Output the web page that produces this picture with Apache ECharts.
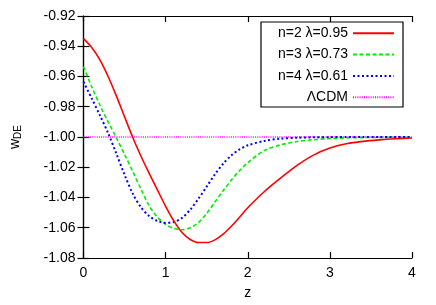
<!DOCTYPE html>
<html><head><meta charset="utf-8">
<script src="https://cdn.jsdelivr.net/npm/echarts@6/dist/echarts.min.js"></script>
<style>html,body{margin:0;padding:0;background:#fff}#c{width:436px;height:305px}</style>
</head><body><div id="c"></div>
<script>
const zVals = [0,0.1,0.2,0.3,0.4,0.5,0.6,0.7,0.8,0.9,1.0,1.1,1.2,1.3,1.4,1.5,1.6,1.7,1.8,1.9,2.0,2.2,2.4,2.6,2.8,3.0,3.2,3.4,3.6,3.8,4.0];
const wN2 = [-0.9350,-0.9408,-0.9490,-0.9600,-0.9728,-0.9866,-1.0003,-1.0127,-1.0240,-1.0350,-1.0458,-1.0555,-1.0632,-1.0678,-1.0698,-1.0698,-1.0680,-1.0642,-1.0590,-1.0530,-1.0468,-1.0362,-1.0272,-1.0188,-1.0120,-1.0073,-1.0045,-1.0029,-1.0019,-1.0012,-1.0007];
const wN3 = [-0.9535,-0.9668,-0.9790,-0.9900,-1.0005,-1.0115,-1.0228,-1.0345,-1.0455,-1.0530,-1.0578,-1.0604,-1.0613,-1.0600,-1.0565,-1.0505,-1.0430,-1.0355,-1.0285,-1.0222,-1.0170,-1.0090,-1.0052,-1.0030,-1.0018,-1.0010,-1.0006,-1.0004,-1.0003,-1.0002,-1.0001];
const wN4 = [-0.9635,-0.9745,-0.9857,-0.9975,-1.0110,-1.0250,-1.0375,-1.0465,-1.0523,-1.0555,-1.0568,-1.0562,-1.0535,-1.0480,-1.0408,-1.0328,-1.0247,-1.0177,-1.0122,-1.0082,-1.0055,-1.0026,-1.0011,-1.0005,-1.0002,-1.0001,-1.0000,-1.0000,-1.0000,-1.0000,-1.0000];
const lcdmZ = [0, 4];
const lcdmW = [-1, -1];
const names = ['n=2 λ=0.95','n=3 λ=0.73','n=4 λ=0.61','ΛCDM'];
const yTickLabels = ['-1.08','-1.06','-1.04','-1.02','-1.00','-0.98','-0.96','-0.94','-0.92'];

const pairs = (xs, ys) => xs.map((x, i) => [x, ys[i]]);
const font = 'Liberation Sans, Arial, sans-serif';
const chart = echarts.init(document.getElementById('c'), null, {renderer: 'canvas'});

const axisCommon = {
  axisLine: {show: true, lineStyle: {color: '#000', width: 1.2}},
  axisTick: {show: true, inside: true, length: 6, lineStyle: {color: '#000', width: 1.2}},
  splitLine: {show: false}
};
const rowCenters = [33.3, 54.6, 76, 97.3];
const legends = names.map((n, i) => ({
  data: [n], right: 41, top: rowCenters[i] - 7, align: 'right', padding: 0,
  itemWidth: 41, itemHeight: 14, itemGap: 8, z: 6,
  itemStyle: {opacity: 0, borderWidth: 0},
  textStyle: {fontFamily: font, fontSize: 14, color: '#000', lineHeight: 14},
  selectedMode: false
}));

chart.setOption({
  animation: false,
  grid: {left: 80, right: 24, top: 16, bottom: 43},
  legend: legends,
  graphic: [{type: 'rect', shape: {x: 261, y: 22, width: 142, height: 85},
    style: {fill: 'none', stroke: '#000', lineWidth: 1.2}, z: 5}],
  xAxis: [
    Object.assign({type: 'value', min: 0, max: 4, interval: 1, position: 'bottom',
      name: 'z', nameLocation: 'middle', nameGap: 28,
      nameTextStyle: {fontFamily: font, fontSize: 14, color: '#000'},
      axisLabel: {margin: 8, fontFamily: font, fontSize: 14, color: '#000'}}, axisCommon),
    Object.assign({type: 'value', min: 0, max: 4, interval: 1, position: 'top',
      axisLabel: {show: false}}, axisCommon)
  ],
  yAxis: [
    Object.assign({type: 'value', min: -1.08, max: -0.92, interval: 0.02, position: 'left',
      name: '{w|w}{s|DE}', nameLocation: 'middle', nameGap: 60, nameRotate: 90,
      nameTextStyle: {fontFamily: font, fontSize: 14, color: '#000',
        rich: {w: {fontFamily: font, fontSize: 14, color: '#000'},
               s: {fontFamily: font, fontSize: 10, color: '#000', padding: [7, 0, 0, 0]}}},
      axisLabel: {margin: 8, fontFamily: font, fontSize: 14, color: '#000',
        formatter: v => yTickLabels[Math.round((v + 1.08) / 0.02)]}}, axisCommon),
    Object.assign({type: 'value', min: -1.08, max: -0.92, interval: 0.02, position: 'right',
      axisLabel: {show: false}}, axisCommon)
  ],
  series: [
    {name: names[0], type: 'line', data: pairs(zVals, wN2), smooth: 0.3, symbol: 'none', z: 4,
      lineStyle: {color: '#ff0000', width: 1.6, type: 'solid'}, itemStyle: {color: '#ff0000'}},
    {name: names[1], type: 'line', data: pairs(zVals, wN3), smooth: 0.3, symbol: 'none', z: 3,
      lineStyle: {color: '#00ee00', width: 1.6, type: [4, 2.5]}, itemStyle: {color: '#00ee00'}},
    {name: names[2], type: 'line', data: pairs(zVals, wN4), smooth: 0.3, symbol: 'none', z: 3,
      lineStyle: {color: '#0000ff', width: 2, type: [2, 2.5]}, itemStyle: {color: '#0000ff'}},
    {name: names[3], type: 'line', data: pairs(lcdmZ, lcdmW), symbol: 'none', z: 2,
      lineStyle: {color: '#ff00ff', width: 1.5, type: [1, 1.2]}, itemStyle: {color: '#ff00ff'}}
  ]
});
</script></body></html>
